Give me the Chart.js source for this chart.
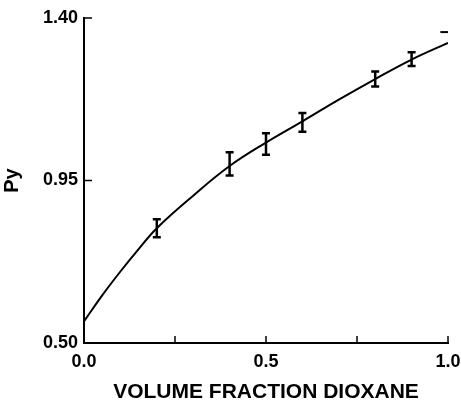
<!DOCTYPE html>
<html>
<head>
<meta charset="utf-8">
<script src="https://cdn.jsdelivr.net/npm/chart.js@4/dist/chart.umd.min.js"></script>
<style>
  html, body { margin: 0; padding: 0; background: #fff; }
  #wrap { width: 461px; height: 403px; }
</style>
</head>
<body>
<div id="wrap"><canvas id="pyChart" width="461" height="403"></canvas></div>
<script>
// fitted curve
const curveX = [0, 0.05, 0.1, 0.15, 0.2, 0.3, 0.4, 0.5, 0.6, 0.7, 0.8, 0.9, 1.0];
const curveY = [0.56, 0.632, 0.698, 0.76, 0.818, 0.908, 0.99, 1.055, 1.114, 1.174, 1.231, 1.285, 1.331];

// measured points with error bars
const pointX = [0.2, 0.4, 0.5, 0.6, 0.8, 0.9];
const pointY = [0.818, 0.996, 1.051, 1.111, 1.231, 1.286];
const errHalf = [0.025, 0.032, 0.030, 0.026, 0.021, 0.019];

// lone mark above the curve end
const markX = [0.99];
const markY = [1.361];

const xTicks = [0, 0.25, 0.5, 0.75, 1.0];
const xLabelled = [0, 0.5, 1.0];
const yTicks = [0.50, 0.95, 1.40];

const font = "'Liberation Sans', Arial, sans-serif";

// error bars + inward ticks
const extras = {
  id: 'extras',
  afterDatasetsDraw(chart) {
    const ctx = chart.ctx;
    const xs = chart.scales.x, ys = chart.scales.y;
    ctx.save();
    ctx.strokeStyle = '#000';
    ctx.lineWidth = 2.5;
    pointX.forEach((x, i) => {
      const px = xs.getPixelForValue(x);
      const top = ys.getPixelForValue(pointY[i] + errHalf[i]);
      const bot = ys.getPixelForValue(pointY[i] - errHalf[i]);
      ctx.beginPath();
      ctx.moveTo(px, top); ctx.lineTo(px, bot);
      ctx.moveTo(px - 4, top); ctx.lineTo(px + 4, top);
      ctx.moveTo(px - 4, bot); ctx.lineTo(px + 4, bot);
      ctx.stroke();
    });
    ctx.lineWidth = 1.5;
    xTicks.forEach(v => {
      const px = xs.getPixelForValue(v);
      ctx.beginPath();
      ctx.moveTo(px, xs.top); ctx.lineTo(px, xs.top - 7);
      ctx.stroke();
    });
    yTicks.forEach(v => {
      const py = ys.getPixelForValue(v);
      ctx.beginPath();
      ctx.moveTo(ys.right, py); ctx.lineTo(ys.right + 8, py);
      ctx.stroke();
    });
    ctx.restore();
  }
};

new Chart(document.getElementById('pyChart'), {
  type: 'scatter',
  data: {
    datasets: [{
      type: 'line',
      data: curveX.map((x, i) => ({ x: x, y: curveY[i] })),
      borderColor: '#000',
      borderWidth: 2,
      pointRadius: 0,
      tension: 0.4,
      fill: false
    }, {
      data: markX.map((x, i) => ({ x: x, y: markY[i] })),
      pointStyle: 'line',
      pointRadius: 4,
      borderColor: '#000',
      borderWidth: 2
    }]
  },
  options: {
    responsive: false,
    animation: false,
    layout: { padding: { top: 18, right: 0, left: 0, bottom: 0 } },
    plugins: { legend: { display: false }, tooltip: { enabled: false } },
    scales: {
      x: {
        type: 'linear',
        min: 0, max: 1,
        afterBuildTicks: s => { s.ticks = xTicks.map(v => ({ value: v })); },
        afterFit: s => { s.height = 60; s.paddingRight = 13; s.paddingLeft = 0; },
        grid: { display: false, drawTicks: false },
        border: { display: true, color: '#000', width: 2 },
        ticks: {
          color: '#000', padding: 8,
          font: { family: font, size: 18, weight: 'bold' },
          maxRotation: 0,
          autoSkip: false,
          callback: v => xLabelled.includes(v) ? v.toFixed(1) : ''
        },
        title: {
          display: true, text: 'VOLUME FRACTION DIOXANE', color: '#000',
          font: { family: font, size: 21, weight: 'bold' },
          padding: { top: 0, bottom: -2 }
        }
      },
      y: {
        type: 'linear',
        min: 0.5, max: 1.4,
        afterBuildTicks: s => { s.ticks = yTicks.map(v => ({ value: v })); },
        afterFit: s => { s.width = 84; },
        grid: { display: false, drawTicks: false },
        border: { display: true, color: '#000', width: 2 },
        ticks: {
          color: '#000', padding: 6,
          font: { family: font, size: 18, weight: 'bold' },
          callback: v => v.toFixed(2)
        },
        title: {
          display: true, text: 'Py', color: '#000',
          font: { family: font, size: 20, weight: 'bold' },
          padding: { top: 0, bottom: 0 }
        }
      }
    }
  },
  plugins: [extras]
});
</script>
</body>
</html>
